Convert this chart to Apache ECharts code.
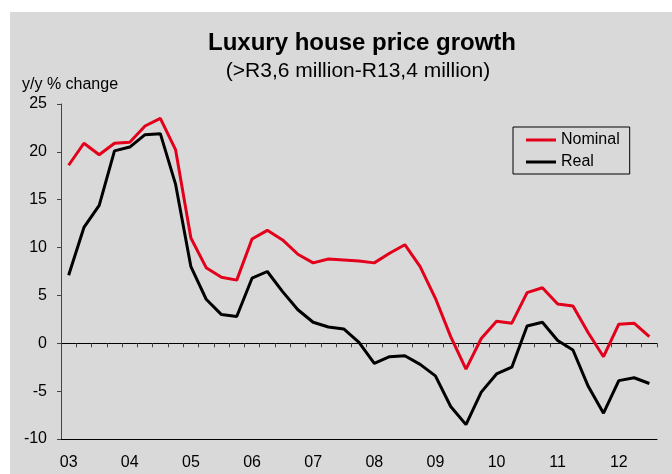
<!DOCTYPE html>
<html>
<head>
<meta charset="utf-8">
<script src="https://cdn.jsdelivr.net/npm/echarts@6/dist/echarts.min.js"></script>
<style>
    html, body { margin: 0; padding: 0; background: #fff; }
    #chart {
        width: 672px;
        height: 474px;
        background: #fff linear-gradient(#d9d9d9, #d9d9d9) no-repeat 10px 12px / 662px 462px;
    }
</style>
</head>
<body>
<div id="chart"></div>
<script>
// quarters, 2003 Q1 .. 2012 Q3
const quarters = [
    '03Q1', '03Q2', '03Q3', '03Q4',
    '04Q1', '04Q2', '04Q3', '04Q4',
    '05Q1', '05Q2', '05Q3', '05Q4',
    '06Q1', '06Q2', '06Q3', '06Q4',
    '07Q1', '07Q2', '07Q3', '07Q4',
    '08Q1', '08Q2', '08Q3', '08Q4',
    '09Q1', '09Q2', '09Q3', '09Q4',
    '10Q1', '10Q2', '10Q3', '10Q4',
    '11Q1', '11Q2', '11Q3', '11Q4',
    '12Q1', '12Q2', '12Q3'
]

const nominal = [
    18.6, 20.9, 19.7, 20.9, 21.0, 22.7, 23.5, 20.2, 11.0, 7.9,
    6.9, 6.6, 10.9, 11.8, 10.8, 9.3, 8.4, 8.8, 8.7, 8.6,
    8.4, 9.4, 10.3, 8.0, 4.7, 0.7, -2.7, 0.5, 2.3, 2.1,
    5.3, 5.8, 4.1, 3.9, 1.1, -1.4, 2.0, 2.1, 0.7
]

const real = [
    7.1, 12.1, 14.4, 20.1, 20.5, 21.8, 21.9, 16.6, 8.0, 4.6,
    3.0, 2.8, 6.8, 7.5, 5.4, 3.5, 2.2, 1.7, 1.5, 0.1,
    -2.1, -1.4, -1.3, -2.2, -3.4, -6.6, -8.5, -5.1, -3.2, -2.5,
    1.8, 2.2, 0.3, -0.7, -4.5, -7.3, -3.9, -3.6, -4.2
]

const font = 'Arial, "Liberation Sans", sans-serif'

const chart = echarts.init(document.getElementById('chart'))

chart.setOption({
    backgroundColor: 'transparent',
    animation: false,
    textStyle: { fontFamily: font, color: '#000' },
    title: [
        {
            text: 'Luxury house price growth',
            left: 357, top: 26, textAlign: 'center',
            textStyle: { fontSize: 24, fontWeight: 'bold', color: '#000', fontFamily: font }
        },
        {
            text: '(>R3,6 million-R13,4 million)',
            left: 353, top: 56, textAlign: 'center',
            textStyle: { fontSize: 21, fontWeight: 'normal', color: '#000', fontFamily: font }
        },
        {
            text: 'y/y % change',
            left: 17, top: 72,
            textStyle: { fontSize: 16, fontWeight: 'normal', color: '#000', fontFamily: font }
        }
    ],
    legend: {
        orient: 'vertical',
        left: 513, top: 127,
        padding: [5, 10, 4, 13],
        itemGap: 6,
        itemWidth: 30,
        itemHeight: 3,
        icon: 'rect',
        borderColor: '#000',
        borderWidth: 1,
        borderRadius: 0,
        textStyle: { fontSize: 16, color: '#000', fontFamily: font },
        data: ['Nominal', 'Real']
    },
    grid: { left: 61, right: 15, top: 104, bottom: 35 },
    xAxis: [
        {
            type: 'category',
            data: quarters,
            boundaryGap: true,
            position: 'bottom',
            axisLine: { onZero: false, lineStyle: { color: '#000', width: 1 } },
            axisTick: { show: false },
            axisLabel: {
                interval: 3, margin: 16, fontSize: 16, color: '#000',
                formatter: v => v.slice(0, 2)
            },
            splitLine: { show: false }
        },
        {
            type: 'category',
            data: quarters,
            boundaryGap: true,
            position: 'bottom',
            axisLine: { onZero: true, onZeroAxisIndex: 0, lineStyle: { color: '#000', width: 1 } },
            axisTick: { show: true, interval: 0, length: 4, lineStyle: { color: '#444' } },
            axisLabel: { show: false },
            splitLine: { show: false }
        }
    ],
    yAxis: {
        type: 'value',
        min: -10, max: 25, interval: 5,
        axisLine: { show: true, lineStyle: { color: '#444', width: 1 } },
        axisTick: { show: true, length: 4, lineStyle: { color: '#444' } },
        axisLabel: { margin: 14, fontSize: 16, color: '#000' },
        splitLine: { show: false }
    },
    series: [
        {
            name: 'Nominal',
            type: 'line',
            data: nominal,
            symbol: 'none',
            color: '#e2001a',
            lineStyle: { width: 3, color: '#e2001a' },
            z: 3
        },
        {
            name: 'Real',
            type: 'line',
            data: real,
            symbol: 'none',
            color: '#000',
            lineStyle: { width: 3, color: '#000' },
            z: 3
        }
    ]
})
</script>
</body>
</html>
